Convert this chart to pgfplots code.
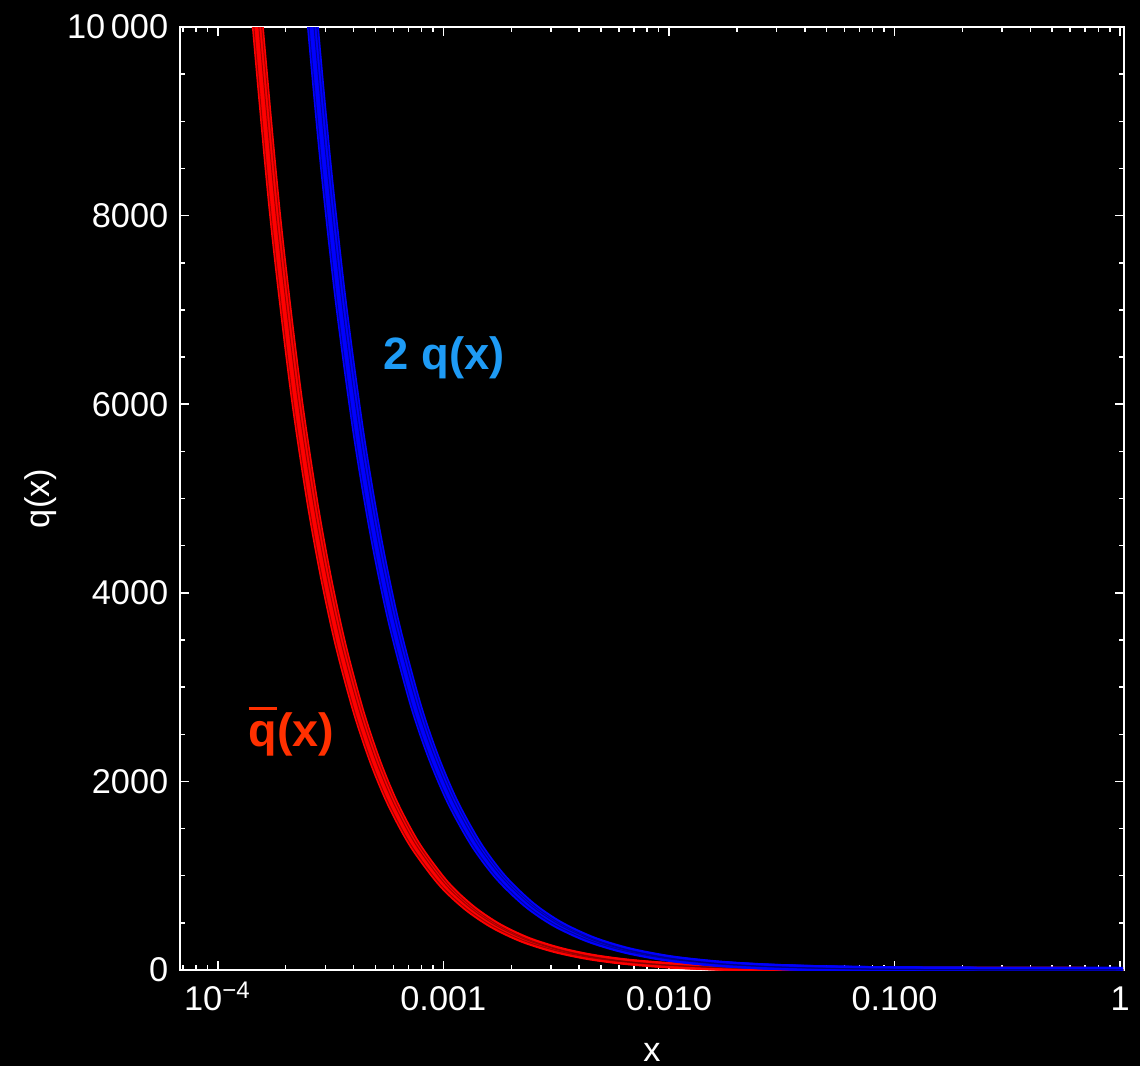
\documentclass[border=0pt]{standalone}
\usepackage{fontspec}
\setmainfont{Liberation Sans}
\usepackage{pgfplots}
\usepackage{pgfplotstable}
\pgfplotsset{compat=1.18}
\definecolor{qbarlab}{RGB}{255,48,0}
\definecolor{qlab}{RGB}{30,155,245}
\definecolor{dred}{RGB}{120,0,0}
\definecolor{dblue}{RGB}{0,0,120}

\pgfplotstableread{
x y
1.40e-4 10963
1.506e-4 10000
1.8e-4 7985
2.2e-4 6203
2.6e-4 5026
3.0e-4 4196
3.5e-4 3454
4.2e-4 2747
5.0e-4 2205
6.0e-4 1752
7.5e-4 1323
1.0e-3 920
1.3e-3 662
1.7e-3 472
2.3e-3 322
3.2e-3 213
4.5e-3 138
6.5e-3 87
1.0e-2 50.6
1.6e-2 28
2.5e-2 16
4.0e-2 8.8
0.07 4.4
0.12 2.2
0.2 1.16
0.4 0.5
0.7 0.25
1 0.15
}\qbar

\pgfplotstableread{
x y
2.45e-4 10960
2.643e-4 10000
3.0e-4 8579
3.5e-4 7118
4.2e-4 5708
5.0e-4 4624
6.0e-4 3708
7.5e-4 2831
9.0e-4 2271
1.1e-3 1781
1.4e-3 1330
1.8e-3 981
2.4e-3 693
3.2e-3 489
4.5e-3 324
6.5e-3 208
1.0e-2 123
1.6e-2 69.8
2.5e-2 40.6
4.0e-2 23
0.07 11.7
0.12 6.1
0.2 3.3
0.4 1.4
0.7 0.7
1 0.5
}\qtwo

\begin{document}
\begin{tikzpicture}
\fill[black] (-54pt,-28.8pt) rectangle (288pt,291pt);
\useasboundingbox (-54pt,-28.8pt) rectangle (288pt,291pt);
\begin{axis}[
  at={(0pt,0pt)}, anchor=south west,
  scale only axis, width=283.2pt, height=282.9pt,
  xmode=log, xmin=6.8e-5, xmax=1.04,
  ymin=0, ymax=10000,
  axis line style={white, line width=0.6pt},
  tick align=inside,
  tick style={white, line width=0.45pt},
  major tick length=2.7pt, minor tick length=1.5pt,
  xtick={1e-4,1e-3,1e-2,1e-1,1},
  xticklabels={10\textsuperscript{−4},0.001,0.010,0.100,1},
  minor xtick={7e-5,8e-5,9e-5,2e-4,3e-4,4e-4,5e-4,6e-4,7e-4,8e-4,9e-4,2e-3,3e-3,4e-3,5e-3,6e-3,7e-3,8e-3,9e-3,2e-2,3e-2,4e-2,5e-2,6e-2,7e-2,8e-2,9e-2,0.2,0.3,0.4,0.5,0.6,0.7,0.8,0.9},
  ytick={0,2000,4000,6000,8000,10000},
  yticklabels={0,2000,4000,6000,8000,10\,000},
  minor ytick={500,1000,1500,2500,3000,3500,4500,5000,5500,6500,7000,7500,8500,9000,9500},
  tick label style={white, font=\fontsize{10.3}{12}\selectfont},
  xticklabel style={text height=8pt, yshift=-0.5pt},
  xlabel={x}, ylabel={q(x)},
  every axis x label/.style={at={(axis description cs:0.5,-0.087)}, anchor=center, white, font=\fontsize{10.3}{12}\selectfont},
  every axis y label/.style={at={(axis description cs:-0.148,0.5)}, rotate=90, anchor=center, white, font=\fontsize{10.3}{12}\selectfont},
]
% red band
\addplot[red, line width=1.8pt, smooth] table[x expr=\thisrow{x}*0.97, y=y] {\qbar};
\addplot[red, line width=1.8pt, smooth] table[x expr=\thisrow{x}*1.03, y=y] {\qbar};
\addplot[red, line width=1.8pt, smooth] table[x=x, y=y] {\qbar};
\addplot[dred, opacity=0.7, line width=0.3pt, smooth] table[x expr=\thisrow{x}*0.96, y=y] {\qbar};
\addplot[dred, opacity=0.7, line width=0.3pt, smooth] table[x expr=\thisrow{x}*1.04, y=y] {\qbar};
\addplot[dred, opacity=0.7, line width=0.3pt, smooth] table[x expr=\thisrow{x}*1.01, y=y] {\qbar};
% blue band
\addplot[blue, line width=1.8pt, smooth] table[x expr=\thisrow{x}*0.97, y=y] {\qtwo};
\addplot[blue, line width=1.8pt, smooth] table[x expr=\thisrow{x}*1.03, y=y] {\qtwo};
\addplot[blue, line width=1.8pt, smooth] table[x=x, y=y] {\qtwo};
\addplot[dblue, opacity=0.7, line width=0.3pt, smooth] table[x expr=\thisrow{x}*0.96, y=y] {\qtwo};
\addplot[dblue, opacity=0.7, line width=0.3pt, smooth] table[x expr=\thisrow{x}*1.04, y=y] {\qtwo};
\addplot[dblue, opacity=0.7, line width=0.3pt, smooth] table[x expr=\thisrow{x}*1.01, y=y] {\qtwo};
\node[anchor=base west, inner sep=0pt, text=qlab, font=\bfseries\fontsize{13.6}{15}\selectfont] at (axis cs:5.41e-4,6373) {2 q(x)};
\node[anchor=base west, inner sep=0pt, text=qbarlab, font=\bfseries\fontsize{14}{16}\selectfont] at (axis cs:1.36e-4,2370) {\makebox[0pt][l]{\raisebox{11.1pt}{\rule{8.4pt}{0.85pt}}}q(x)};
\end{axis}
\end{tikzpicture}
\end{document}
